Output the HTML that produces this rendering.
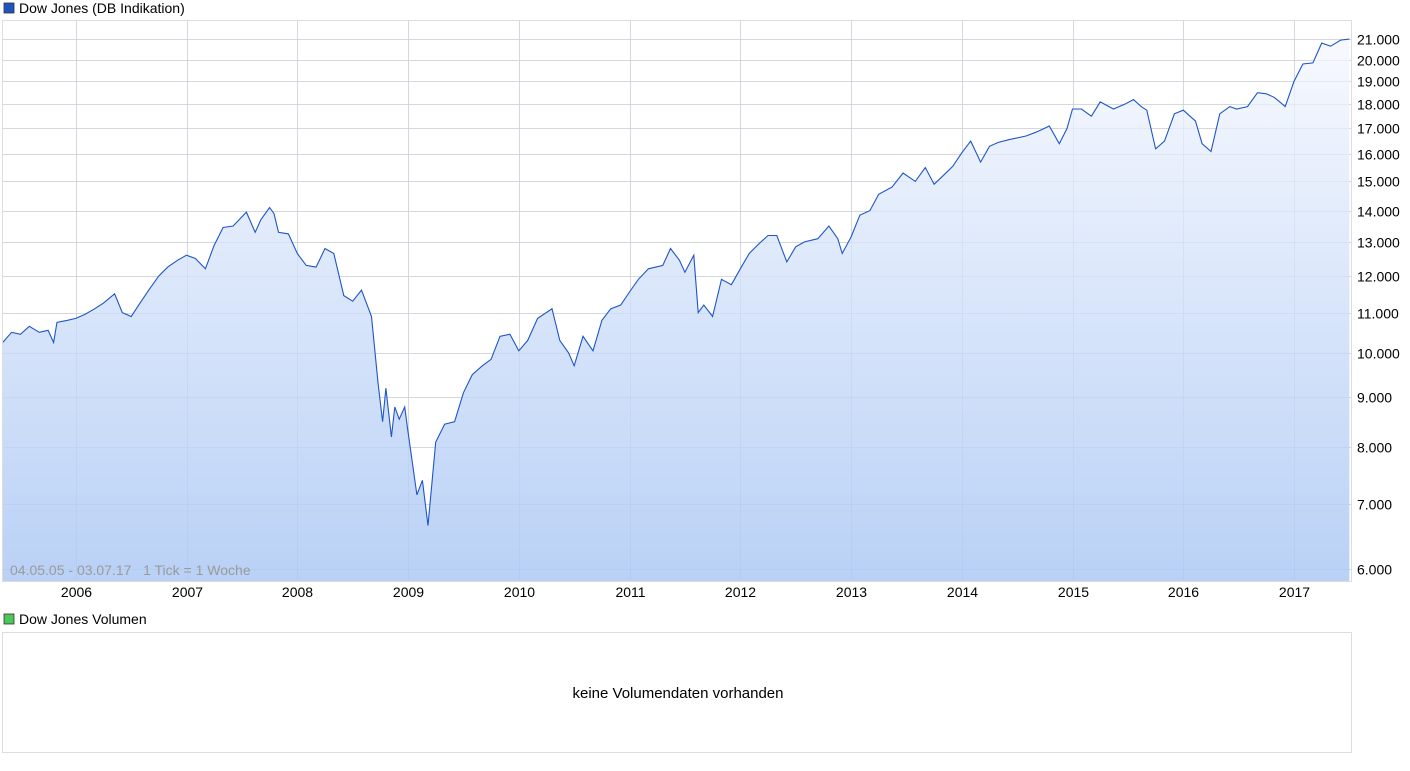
<!DOCTYPE html>
<html><head><meta charset="utf-8">
<style>
body{margin:0;background:#fff;font-family:"Liberation Sans",sans-serif;}
svg text{font-family:"Liberation Sans",sans-serif;}
</style></head>
<body>
<svg id="chart" width="1410" height="766" xmlns="http://www.w3.org/2000/svg">
<defs>
<linearGradient id="fillg" x1="0" y1="0" x2="0" y2="1">
<stop offset="0" stop-color="#f7f9fe"/><stop offset="1" stop-color="#b9d1f6"/>
</linearGradient>
</defs>
<rect x="4" y="3" width="10" height="10" fill="#1f55c0" stroke="#333" stroke-width="0.8"/>
<text x="19" y="13" font-size="14" fill="#000">Dow Jones (DB Indikation)</text>
<g id="grid"></g>
<path id="area" fill="url(#fillg)"/>
<g id="grid2"></g>
<path id="line" fill="none" stroke="#1f55c8" stroke-width="1.1"/>
<rect x="2.5" y="20.5" width="1349" height="561" fill="none" stroke="#ddd"/>
<text x="10" y="575" font-size="14" fill="#9a9a9a" xml:space="preserve" style="white-space:pre">04.05.05 - 03.07.17   1 Tick = 1 Woche</text>
<g id="yl"></g><g id="xl"></g>
<rect x="4" y="614" width="10" height="10" fill="#4cc85a" stroke="#333" stroke-width="0.8"/>
<text x="19" y="624" font-size="14" fill="#000">Dow Jones Volumen</text>
<rect x="2.5" y="632.5" width="1349" height="120" fill="#fff" stroke="#ddd"/>
<text x="678" y="698" font-size="15" text-anchor="middle" fill="#000">keine Volumendaten vorhanden</text>
</svg>
<script>
const years=[2006,2007,2008,2009,2010,2011,2012,2013,2014,2015,2016,2017];
const yTicks=[6000,7000,8000,9000,10000,11000,12000,13000,14000,15000,16000,17000,18000,19000,20000,21000];
const dates=[2005.34,2005.42,2005.5,2005.58,2005.67,2005.75,2005.8,2005.83,2005.92,
2006.0,2006.08,2006.17,2006.25,2006.35,2006.42,2006.5,2006.58,2006.67,2006.75,2006.83,2006.92,
2007.0,2007.08,2007.17,2007.25,2007.33,2007.42,2007.54,2007.62,2007.67,2007.75,2007.79,2007.83,2007.92,
2008.0,2008.08,2008.17,2008.25,2008.33,2008.42,2008.5,2008.58,2008.67,2008.73,2008.77,2008.8,2008.85,2008.88,2008.92,2008.97,
2009.0,2009.08,2009.13,2009.18,2009.25,2009.33,2009.42,2009.5,2009.58,2009.67,2009.75,2009.83,2009.92,
2010.0,2010.08,2010.17,2010.3,2010.37,2010.45,2010.5,2010.58,2010.67,2010.75,2010.83,2010.92,
2011.0,2011.08,2011.17,2011.3,2011.37,2011.45,2011.5,2011.58,2011.62,2011.67,2011.75,2011.83,2011.92,
2012.0,2012.08,2012.17,2012.25,2012.33,2012.42,2012.5,2012.58,2012.7,2012.8,2012.88,2012.92,
2013.0,2013.08,2013.17,2013.25,2013.37,2013.47,2013.58,2013.67,2013.75,2013.83,2013.92,
2014.0,2014.08,2014.17,2014.25,2014.33,2014.42,2014.58,2014.67,2014.72,2014.79,2014.88,2014.95,
2015.0,2015.08,2015.17,2015.25,2015.37,2015.47,2015.55,2015.62,2015.67,2015.75,2015.83,2015.92,
2016.0,2016.11,2016.17,2016.25,2016.33,2016.42,2016.48,2016.58,2016.67,2016.75,2016.82,2016.86,2016.92,
2017.0,2017.08,2017.17,2017.25,2017.33,2017.42,2017.5];
const values=[10250,10500,10450,10650,10500,10550,10250,10750,10800,
10850,10950,11100,11250,11500,11000,10900,11250,11650,12000,12250,12450,
12600,12500,12200,12900,13450,13500,13950,13300,13700,14100,13900,13300,13250,
12650,12300,12250,12800,12650,11450,11300,11600,10900,9300,8500,9200,8200,8800,8550,8800,
8300,7150,7400,6650,8100,8450,8500,9100,9500,9700,9850,10400,10450,
10050,10300,10850,11100,10300,10000,9700,10400,10050,10800,11100,11200,11550,
11900,12200,12300,12800,12450,12100,12600,11000,11200,10900,11900,11750,12200,
12650,12950,13200,13200,12400,12850,13000,13100,13500,13100,12650,13150,
13850,14000,14550,14800,15300,15000,15500,14900,15200,15550,16050,16500,
15700,16300,16450,16550,16700,16850,16950,17100,16400,17000,17800,17800,
17500,18100,17800,18000,18200,17900,17750,16200,16500,17600,17750,17300,
16400,16100,17600,17900,17800,17900,18500,18450,18300,18150,17900,19000,19800,
19850,20800,20650,20950,21000,21350,21480];
const ns='http://www.w3.org/2000/svg';
const L=2.5,R=1351.5,T=20.5,B=581.5;
const xS=d=>1183.3+(d-2016)*110.75;
const yS=v=>569-(Math.log(v)-Math.log(6000))*423;
function mk(tag,attrs,parent){const e=document.createElementNS(ns,tag);for(const k in attrs)e.setAttribute(k,attrs[k]);document.getElementById(parent).appendChild(e);return e;}
yTicks.forEach(v=>{
 const y=Math.round(yS(v))+0.5;
 const g=mk('line',{x1:L,x2:R,y1:y,y2:y,stroke:'#dedede'},'grid');
 
 
 const g2=mk('line',{x1:L,x2:R,y1:y,y2:y,stroke:'rgba(140,165,210,0.12)'},'grid2');
 
 
 const t=mk('text',{x:1357,y:y+5,'font-size':14,fill:'#000'},'yl');
 t.textContent=v.toLocaleString('de-DE');
 
 
});
years.forEach(yr=>{
 const x=Math.round(xS(yr))+0.5;
 const g=mk('line',{x1:x,x2:x,y1:T,y2:B,stroke:'#dedede'},'grid');
 
 
 const g2=mk('line',{x1:x,x2:x,y1:T,y2:B,stroke:'rgba(140,165,210,0.12)'},'grid2');
 
 
 const t=mk('text',{x:x,y:597,'font-size':14,'text-anchor':'middle',fill:'#000'},'xl');
 t.textContent=yr;
 
 
});
let d='';
dates.forEach((dt,i)=>{d+=(i?'L':'M')+xS(dt).toFixed(1)+','+yS(values[i]).toFixed(1);});
document.getElementById('line').setAttribute('d',d);
document.getElementById('area').setAttribute('d',d+'L'+xS(dates[dates.length-1]).toFixed(1)+','+B+'L'+xS(dates[0]).toFixed(1)+','+B+'Z');
</script>
</body></html>
